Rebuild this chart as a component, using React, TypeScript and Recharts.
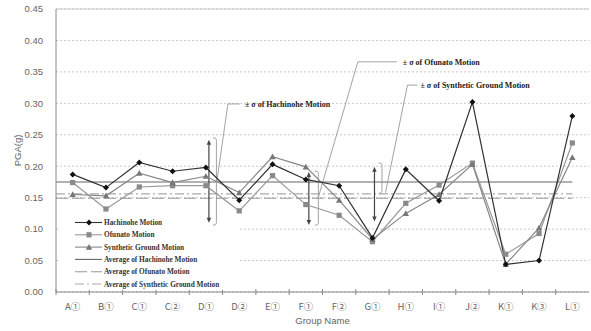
import React from 'react';
import { LineChart, Line, XAxis, YAxis, CartesianGrid, ReferenceLine, Legend } from 'recharts';

const categories = ['A①', 'B①', 'C①', 'C②', 'D①', 'D②', 'E①', 'F①', 'F②', 'G①', 'H①', 'I①', 'J②', 'K①', 'K③', 'L①'];
const hachinohe = [0.187, 0.166, 0.206, 0.192, 0.198, 0.146, 0.203, 0.179, 0.169, 0.086, 0.195, 0.145, 0.302, 0.044, 0.050, 0.280];
const ofunato = [0.174, 0.132, 0.167, 0.169, 0.169, 0.129, 0.185, 0.139, 0.122, 0.080, 0.141, 0.170, 0.205, 0.060, 0.093, 0.237];
const synthetic = [0.155, 0.153, 0.189, 0.174, 0.184, 0.158, 0.215, 0.199, 0.146, 0.084, 0.125, 0.155, 0.203, 0.044, 0.102, 0.214];
const averages = { hachinohe: 0.175, ofunato: 0.149, synthetic: 0.156 };
const yTicks = [0, 0.05, 0.1, 0.15, 0.2, 0.25, 0.3, 0.35, 0.4, 0.45];

const data = categories.map((name, i) => ({
  name,
  hachinohe: hachinohe[i],
  ofunato: ofunato[i],
  synthetic: synthetic[i],
}));

const sigmaNotes = [
  { label: '± σ of Hachinohe Motion', cat: 'D①', top: 0.242, bottom: 0.110, braceTop: 0.245, braceBottom: 0.1065, leaderFrom: 0.1765, leaderTo: 0.299, arrowDx: 3, braceDx: 7, leaderStartDx: 11, leaderTopDx: 22, leaderEndDx: 34, textDx: 39 },
  { label: '± σ of Ofunato Motion', cat: 'F①', top: 0.191, bottom: 0.1065, braceTop: 0.192, braceBottom: 0.1065, leaderFrom: 0.148, leaderTo: 0.366, arrowDx: 3, braceDx: 9, leaderStartDx: 12, leaderTopDx: 52, leaderEndDx: 91, textDx: 97 },
  { label: '± σ of Synthetic Ground Motion', cat: 'G①', top: 0.199, bottom: 0.112, braceTop: 0.205, braceBottom: 0.157, leaderFrom: 0.158, leaderTo: 0.329, arrowDx: 2, braceDx: 6, leaderStartDx: 13, leaderTopDx: 35, leaderEndDx: 45, textDx: 48 },
];

const SERIF = "'Liberation Serif', 'Times New Roman', serif";
const SANS = "'Liberation Sans', Arial, 'Noto Sans CJK KR', sans-serif";
const CJK = "'Noto Sans CJK KR', 'Liberation Sans', sans-serif";

const Diamond = ({ cx, cy, s = 3 }: any) => (
  <path d={`M${cx},${cy - s} L${cx + s},${cy} L${cx},${cy + s} L${cx - s},${cy} Z`} fill="#111" />
);
const Square = ({ cx, cy, s = 2.6 }: any) => (
  <rect x={cx - s} y={cy - s} width={2 * s} height={2 * s} fill="#8a8a8a" />
);
const Triangle = ({ cx, cy, s = 3.2 }: any) => (
  <path d={`M${cx},${cy - s} L${cx + s},${cy + s * 0.8} L${cx - s},${cy + s * 0.8} Z`} fill="#777" />
);

const XTick = (props: any) => {
  const { x, y, payload } = props;
  const off = payload && typeof payload.offset === 'number' && payload.offset > 0 ? payload.offset : 16.66;
  return (
    <g>
      <line x1={x - off} x2={x - off} y1={y - 3} y2={y + 3} stroke="#888" />
      <text x={x} y={y + 18} textAnchor="middle" fill="#666" fontSize={9.5} fontFamily={CJK}>
        {payload.value}
      </text>
    </g>
  );
};

const SigmaShape = (props: any) => {
  const { x1, y1, y2, note } = props;
  if (typeof x1 !== 'number' || typeof y1 !== 'number' || typeof y2 !== 'number') return null;
  const py = (v: number) => y1 + ((note.top - v) * (y2 - y1)) / (note.top - note.bottom);
  const ax = x1 + note.arrowDx;
  const ya = py(note.top);
  const yb = py(note.bottom);
  const bx = x1 + note.braceDx;
  const bt = py(note.braceTop);
  const bb = py(note.braceBottom);
  const ly0 = py(note.leaderFrom);
  const ly1 = py(note.leaderTo);
  return (
    <g>
      <line x1={ax} x2={ax} y1={ya + 3} y2={yb - 3} stroke="#444" strokeWidth={1.2} />
      <path d={`M${ax},${ya} L${ax + 2.2},${ya + 5} L${ax - 2.2},${ya + 5} Z`} fill="#444" />
      <path d={`M${ax},${yb} L${ax + 2.2},${yb - 5} L${ax - 2.2},${yb - 5} Z`} fill="#444" />
      <path
        d={`M${bx},${bt} C${bx + 3.5},${bt} ${bx + 3.5},${bt} ${bx + 3.5},${bt + 5} L${bx + 3.5},${bb - 5} C${bx + 3.5},${bb} ${bx + 3.5},${bb} ${bx},${bb}`}
        fill="none"
        stroke="#999"
        strokeWidth={0.9}
      />
      <polyline
        points={`${x1 + note.leaderStartDx},${ly0} ${x1 + note.leaderTopDx},${ly1} ${x1 + note.leaderEndDx},${ly1}`}
        fill="none"
        stroke="#999"
        strokeWidth={0.9}
      />
      <text x={x1 + note.textDx} y={ly1 + 3} fontFamily={SERIF} fontWeight="bold" fontSize={8} fill="#222">
        {note.label}
      </text>
    </g>
  );
};

const AvgShape = (props: any) => {
  const { x1, x2, y1, stroke, dash } = props;
  if (typeof x1 !== 'number' || typeof x2 !== 'number') return null;
  const half = (x2 - x1) / (categories.length - 1) / 2;
  return <line x1={x1 - half} x2={x2} y1={y1} y2={y1} stroke={stroke} strokeWidth={1.1} strokeDasharray={dash} />;
};

const legendRows = [
  { label: 'Hachinohe Motion', stroke: '#333', marker: 'diamond' },
  { label: 'Ofunato Motion', stroke: '#999', marker: 'square' },
  { label: 'Synthetic Ground Motion', stroke: '#888', marker: 'triangle' },
  { label: 'Average of Hachinohe Motion', stroke: '#666', dash: undefined },
  { label: 'Average of Ofunato Motion', stroke: '#999', dash: '12 4' },
  { label: 'Average of Synthetic Ground Motion', stroke: '#aaa', dash: '9 3 2 3' },
];

const LegendBox = () => (
  <svg width={182} height={76} style={{ display: 'block' }}>
    <rect x={0} y={10} width={180} height={64} fill="#fff" />
    {legendRows.map((r: any, i) => {
      const cy = 6.5 + i * 12.3;
      return (
        <g key={r.label}>
          <line x1={17} x2={44} y1={cy} y2={cy} stroke={r.stroke} strokeWidth={1.1} strokeDasharray={r.dash} />
          {r.marker === 'diamond' && <Diamond cx={31} cy={cy} />}
          {r.marker === 'square' && <Square cx={31} cy={cy} />}
          {r.marker === 'triangle' && <Triangle cx={31} cy={cy} />}
          <text x={46} y={cy + 2.6} fontFamily={SERIF} fontWeight="bold" fontSize={7.3} fill="#333">
            {r.label}
          </text>
        </g>
      );
    })}
  </svg>
);

export default function App() {
  return (
    <div style={{ position: 'absolute', left: 0, top: 0, width: 591, height: 331, background: '#fff', fontFamily: SANS }}>
      <LineChart width={591} height={331} data={data} margin={{ top: 9, right: 2, bottom: 0, left: 0 }}>
        <CartesianGrid vertical={false} stroke="#c8c8c8" strokeDasharray="2 2" />
        <XAxis
          dataKey="name"
          scale="band"
          height={39}
          interval={0}
          tickSize={0}
          tickMargin={0}
          tickLine={false}
          axisLine={{ stroke: '#888' }}
          tick={<XTick />}
          label={{ value: 'Group Name', position: 'insideBottom', offset: 7, fill: '#666', fontSize: 9.5 }}
        />
        <YAxis
          domain={[0, 0.45]}
          ticks={yTicks}
          width={56}
          tickSize={0}
          tickMargin={13}
          tickLine={false}
          axisLine={{ stroke: '#888' }}
          tickFormatter={(v: number) => v.toFixed(2)}
          tick={{ fill: '#666', fontSize: 9.5 }}
          label={{
            value: 'PGA(g)',
            content: (p: any) => {
              const vb = p.viewBox || { y: 9, height: 283 };
              const cx = 17;
              const cy = vb.y + vb.height / 2;
              return (
                <text x={cx} y={cy} transform={`rotate(-90 ${cx} ${cy})`} textAnchor="middle" dominantBaseline="central" fill="#666" fontSize={9.5}>
                  PGA(g)
                </text>
              );
            },
          }}
        />
        <YAxis yAxisId="right" orientation="right" width={0} domain={[0, 0.45]} tick={false} tickLine={false} axisLine={{ stroke: '#ccc' }} />
        <ReferenceLine y={0.45} stroke="#ccc" />
        <ReferenceLine
          segment={[{ x: categories[0], y: averages.hachinohe }, { x: categories[categories.length - 1], y: averages.hachinohe }]}
          shape={(p: any) => <AvgShape {...p} stroke="#666" />}
        />
        <ReferenceLine
          segment={[{ x: categories[0], y: averages.ofunato }, { x: categories[categories.length - 1], y: averages.ofunato }]}
          shape={(p: any) => <AvgShape {...p} stroke="#999" dash="12 4" />}
        />
        <ReferenceLine
          segment={[{ x: categories[0], y: averages.synthetic }, { x: categories[categories.length - 1], y: averages.synthetic }]}
          shape={(p: any) => <AvgShape {...p} stroke="#aaa" dash="9 3 2 3" />}
        />
        {sigmaNotes.map((n) => (
          <ReferenceLine
            key={n.label}
            segment={[{ x: n.cat, y: n.top }, { x: n.cat, y: n.bottom }]}
            shape={(p: any) => <SigmaShape {...p} note={n} />}
          />
        ))}
        <Line
          type="linear"
          dataKey="ofunato"
          stroke="#999"
          strokeWidth={1.2}
          isAnimationActive={false}
          dot={(p: any) => <Square key={`o${p.index}`} cx={p.cx} cy={p.cy} />}
        />
        <Line
          type="linear"
          dataKey="synthetic"
          stroke="#888"
          strokeWidth={1.2}
          isAnimationActive={false}
          dot={(p: any) => <Triangle key={`s${p.index}`} cx={p.cx} cy={p.cy} />}
        />
        <Line
          type="linear"
          dataKey="hachinohe"
          stroke="#333"
          strokeWidth={1.2}
          isAnimationActive={false}
          dot={(p: any) => <Diamond key={`h${p.index}`} cx={p.cx} cy={p.cy} />}
        />
        <Legend
          layout="vertical"
          align="center"
          verticalAlign="middle"
          wrapperStyle={{ left: 58, top: 216, width: 182, height: 76, right: 'auto', bottom: 'auto' }}
          content={() => <LegendBox />}
        />
      </LineChart>
    </div>
  );
}
